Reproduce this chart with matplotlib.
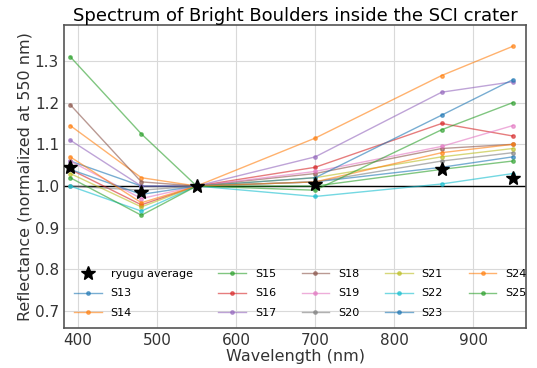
import matplotlib
matplotlib.use("Agg")
import matplotlib.pyplot as plt

wavelengths = [390, 480, 550, 700, 860, 950]
ryugu_average = [1.045, 0.985, 1.0, 1.005, 1.04, 1.02]

series_names = ["S13", "S14", "S15", "S16", "S17", "S18", "S19",
                "S20", "S21", "S22", "S23", "S24", "S25"]
S13 = [1.06, 1.00, 1.0, 1.01, 1.045, 1.07]
S14 = [1.145, 1.02, 1.0, 1.115, 1.265, 1.335]
S15 = [1.31, 1.125, 1.0, 1.0, 1.04, 1.06]
S16 = [1.04, 0.955, 1.0, 1.045, 1.15, 1.12]
S17 = [1.11, 1.00, 1.0, 1.07, 1.225, 1.25]
S18 = [1.195, 1.01, 1.0, 1.03, 1.09, 1.10]
S19 = [1.06, 0.97, 1.0, 1.035, 1.095, 1.145]
S20 = [1.0, 0.99, 1.0, 1.01, 1.06, 1.08]
S21 = [1.03, 0.95, 1.0, 1.02, 1.07, 1.09]
S22 = [1.0, 0.94, 1.0, 0.975, 1.005, 1.03]
S23 = [1.04, 0.98, 1.0, 1.02, 1.17, 1.255]
S24 = [1.07, 0.96, 1.0, 1.01, 1.08, 1.10]
S25 = [1.02, 0.93, 1.0, 0.99, 1.135, 1.20]
series_values = [S13, S14, S15, S16, S17, S18, S19, S20, S21, S22, S23, S24, S25]

xticks = [400, 500, 600, 700, 800, 900]
yticks = [0.7, 0.8, 0.9, 1.0, 1.1, 1.2, 1.3]

fig = plt.figure(figsize=(5.37, 3.68), dpi=100)
ax = fig.add_axes([0.119, 0.109, 0.861, 0.823])

ax.plot(wavelengths, ryugu_average, 'k*', markersize=10, label="ryugu average", zorder=5)
colors = plt.rcParams['axes.prop_cycle'].by_key()['color']
for i, (name, vals) in enumerate(zip(series_names, series_values)):
    ax.plot(wavelengths, vals, '.-', color=colors[i % 10], alpha=0.6,
            linewidth=1.0, markersize=5, label=name)

ax.axhline(1.0, color='black', linewidth=1.0, zorder=1)

ax.set_xlim(382, 967)
ax.set_ylim(0.66, 1.386)
ax.set_xticks(xticks)
ax.set_yticks(yticks)
ax.grid(True, color='#d9d9d9', linewidth=0.8)
ax.set_axisbelow(True)
for s in ax.spines.values():
    s.set_color('#555555')
    s.set_linewidth(1.2)
ax.tick_params(labelsize=11, length=0, colors='#333333')
ax.set_xlabel("Wavelength (nm)", fontsize=11.5, color='#333333', labelpad=1)
ax.set_ylabel("Reflectance (normalized at 550 nm)", fontsize=11.5, color='#333333', labelpad=2)
ax.set_title("Spectrum of Bright Boulders inside the SCI crater", fontsize=13, pad=3)

ax.legend(ncol=5, loc='lower left', fontsize=8, frameon=False,
          bbox_to_anchor=(0.0, 0.0), columnspacing=2.3, handlelength=2.5,
          labelspacing=0.85)

fig.savefig("out.png", dpi=100)
